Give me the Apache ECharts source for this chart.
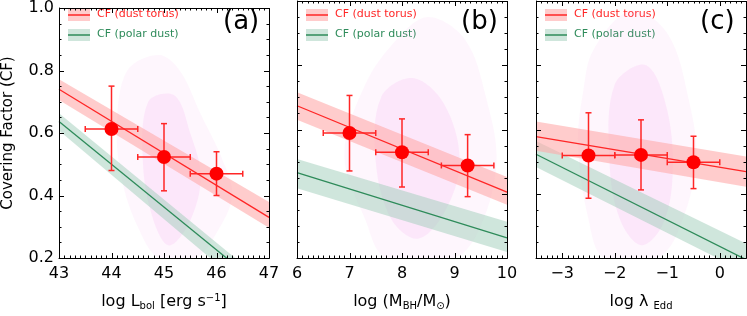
<!DOCTYPE html>
<html><head><meta charset="utf-8">
<script src="https://cdn.jsdelivr.net/npm/echarts@6/dist/echarts.min.js"></script>
<style>html,body{margin:0;padding:0;background:#fff}#c{width:747px;height:316px}</style>
</head><body><div id="c"></div>
<script>
// ---- data ----
const yMin = 0.2, yMax = 1.0, yStep = 0.2;
const xRangeA = [43, 47], xRangeB = [6, 10], xRangeC = [-3.5, 0.5];
const xTicksA = [43, 44, 45, 46, 47], xTicksB = [6, 7, 8, 9, 10], xTicksC = [-3, -2, -1, 0];

// binned points with error bars
const ptsA_x = [44, 45, 46], ptsA_y = [0.613, 0.523, 0.47];
const ptsA_xlo = [43.5, 44.5, 45.5], ptsA_xhi = [44.5, 45.5, 46.5];
const ptsA_ylo = [0.48, 0.415, 0.40], ptsA_yhi = [0.75, 0.63, 0.54];

const ptsB_x = [7, 8, 9.25], ptsB_y = [0.589, 0.529, 0.488];
const ptsB_xlo = [6.5, 7.5, 8.75], ptsB_xhi = [7.5, 8.5, 9.75];
const ptsB_ylo = [0.471, 0.421, 0.391], ptsB_yhi = [0.706, 0.633, 0.584];

const ptsC_x = [-2.5, -1.5, -0.5], ptsC_y = [0.519, 0.521, 0.498];
const ptsC_xlo = [-3, -2, -1], ptsC_xhi = [-2, -1, 0];
const ptsC_ylo = [0.386, 0.412, 0.416], ptsC_yhi = [0.652, 0.63, 0.579];

// fitted relations (line + band upper/lower) at the panel x-limits
const torusA_x = [43, 47], torusA_y = [0.74, 0.33], torusA_hi = [0.772, 0.379], torusA_lo = [0.706, 0.297];
const polarA_x = [43, 47], polarA_y = [0.637, 0.089], polarA_hi = [0.663, 0.111], polarA_lo = [0.608, 0.041];
const torusB_x = [6, 10], torusB_y = [0.674, 0.405], torusB_hi = [0.716, 0.452], torusB_lo = [0.63, 0.366];
const polarB_x = [6, 10], polarB_y = [0.466, 0.263], polarB_hi = [0.508, 0.313], polarB_lo = [0.417, 0.219];
const torusC_x = [-3.5, 0.5], torusC_y = [0.578, 0.469], torusC_hi = [0.625, 0.516], torusC_lo = [0.534, 0.422];
const polarC_x = [-3.5, 0.5], polarC_y = [0.523, 0.195], polarC_hi = [0.564, 0.245], polarC_lo = [0.483, 0.155];

// approximate outlines of the individual-source cloud (outer sparse / inner dense)
const cloudA_outer = [[44.3,0.80],[44.9,0.85],[45.3,0.80],[45.7,0.66],[46.1,0.52],[46.3,0.40],[46.0,0.28],[45.6,0.20],[44.9,0.20],[44.5,0.30],[44.2,0.45],[44.1,0.62]];
const cloudA_inner = [[44.7,0.70],[45.2,0.72],[45.5,0.60],[45.7,0.46],[45.5,0.32],[45.1,0.24],[44.8,0.32],[44.6,0.50]];
const cloudB_outer = [[7.3,0.74],[7.9,0.88],[8.5,0.95],[9.2,0.88],[9.6,0.70],[9.8,0.50],[9.5,0.30],[9.0,0.20],[7.7,0.20],[7.3,0.32],[6.9,0.52]];
const cloudB_inner = [[7.6,0.70],[8.2,0.76],[8.8,0.68],[9.1,0.50],[8.8,0.34],[8.3,0.26],[7.8,0.32],[7.5,0.50]];
const cloudC_outer = [[-2.4,0.85],[-1.7,0.97],[-1.0,0.90],[-0.6,0.70],[-0.45,0.50],[-0.8,0.28],[-1.2,0.20],[-2.2,0.20],[-2.5,0.32],[-2.7,0.55],[-2.6,0.72]];
const cloudC_inner = [[-2.0,0.74],[-1.4,0.80],[-1.0,0.66],[-0.9,0.45],[-1.1,0.30],[-1.5,0.24],[-1.9,0.32],[-2.1,0.50]];

const xNames = ['log L{sub|bol} [erg s{sup|\u22121}]', 'log (M{sub|BH}/M{sub|\u2299})', 'log \u03bb {sub|Edd}'];
const yName = 'Covering Factor (CF)';
const panelTags = ['(a)', '(b)', '(c)'];
const legendTorus = 'CF (dust torus)', legendPolar = 'CF (polar dust)';

// ---- styling / layout ----
const FONT = 'DejaVu Sans';
const RED = '#ff2626', PINK = 'rgba(255,170,170,0.6)', GREEN = '#2e8b5a', LGREEN = 'rgba(160,205,185,0.5)';
const grids = [{left: 59, top: 1, width: 210, height: 262}, {left: 297, top: 1, width: 210, height: 262}, {left: 536, top: 1, width: 210, height: 262}];
const ranges = [xRangeA, xRangeB, xRangeC];
const majors = [xTicksA, xTicksB, xTicksC];

const chart = echarts.init(document.getElementById('c'));

const xAxes = [], yAxes = [], series = [], graphics = [];
const lineSt = {color: '#000', width: 1};

grids.forEach((g, i) => {
  const r = ranges[i];
  xAxes.push({gridIndex: i, type: 'value', min: r[0], max: r[1], interval: 0.5, position: 'bottom',
    axisLine: {show: true, onZero: false, lineStyle: lineSt},
    axisTick: {show: false}, minorTick: {show: false}, splitLine: {show: false},
    axisLabel: {show: true, customValues: majors[i], color: '#000', fontFamily: FONT, fontSize: 16, margin: 8,
      formatter: v => (v < 0 ? '\u2212' + Math.abs(v) : String(v))},
    name: xNames[i], nameLocation: 'middle', nameGap: 35,
    nameTextStyle: {color: '#000', fontFamily: FONT, fontSize: 16,
      rich: {sub: {fontFamily: FONT, fontSize: 10, color: '#000', verticalAlign: 'bottom', padding: [8, 0, 0, 0]},
             sup: {fontFamily: FONT, fontSize: 10, color: '#000', verticalAlign: 'top', padding: [0, 0, 8, 0]}}}});
  yAxes.push({gridIndex: i, type: 'value', min: yMin, max: yMax, interval: yStep, position: 'left',
    axisLine: {show: true, onZero: false, lineStyle: lineSt},
    axisTick: {show: false}, minorTick: {show: false}, splitLine: {show: false},
    axisLabel: {show: i === 0, color: '#000', fontFamily: FONT, fontSize: 16, margin: 5, formatter: v => v.toFixed(1)},
    name: i === 0 ? yName : '', nameLocation: 'middle', nameGap: 43, nameRotate: 90,
    nameTextStyle: {color: '#000', fontFamily: FONT, fontSize: 15}});
});

// frame + inside ticks on all four sides, drawn through the axes' scales
function frameSeries(idx) {
  const r = ranges[idx];
  return {type: 'custom', xAxisIndex: idx, yAxisIndex: idx, clip: false, silent: true, z: 20, data: [0],
    renderItem: (params, api) => {
      const cs = params.coordSys;
      const left = cs.x, right = cs.x + cs.width, top = cs.y, bottom = cs.y + cs.height;
      const st = {stroke: '#000', lineWidth: 1};
      const kids = [{type: 'rect', shape: {x: Math.round(left) + 0.5, y: Math.round(top) + 0.5,
        width: Math.round(right) - Math.round(left), height: Math.round(bottom) - Math.round(top)}, style: {fill: 'none', stroke: '#000', lineWidth: 1}}];
      const k0 = Math.round(r[0] * 10), k1 = Math.round(r[1] * 10);
      for (let k = k0; k <= k1; k++) {
        const len = (k % 10 === 0) ? 5 : 2.5;
        const px = Math.round(api.coord([k / 10, yMin])[0]) + 0.5;
        kids.push({type: 'line', shape: {x1: px, y1: bottom, x2: px, y2: bottom - len}, style: st});
        kids.push({type: 'line', shape: {x1: px, y1: top, x2: px, y2: top + len}, style: st});
      }
      for (let k = Math.round(yMin * 20); k <= Math.round(yMax * 20); k++) {
        const len = (k % 4 === 0) ? 5 : 2.5;
        const py = Math.round(api.coord([r[0], k / 20])[1]) + 0.5;
        kids.push({type: 'line', shape: {x1: left, y1: py, x2: left + len, y2: py}, style: st});
        kids.push({type: 'line', shape: {x1: right, y1: py, x2: right - len, y2: py}, style: st});
      }
      return {type: 'group', children: kids};
    }};
}
function cloudSeries(idx, poly, color) {
  return {type: 'custom', xAxisIndex: idx, yAxisIndex: idx, clip: true, silent: true, z: 1,
    data: [0],
    renderItem: (params, api) => ({type: 'polygon', shape: {points: poly.map(p => api.coord(p)), smooth: 0.35},
      style: {fill: color}})};
}
function bandSeries(idx, xs, hi, lo, color) {
  const data = xs.map((x, k) => [x, hi[k], lo[k]]);
  return {type: 'custom', xAxisIndex: idx, yAxisIndex: idx, clip: true, silent: true, z: 2,
    data: [0],
    renderItem: (params, api) => {
      const up = data.map(d => api.coord([d[0], d[1]]));
      const dn = data.slice().reverse().map(d => api.coord([d[0], d[2]]));
      return {type: 'polygon', shape: {points: up.concat(dn)}, style: {fill: color}};
    }};
}
function lineSeries(idx, xs, ys, color) {
  return {type: 'line', xAxisIndex: idx, yAxisIndex: idx, data: xs.map((x, k) => [x, ys[k]]),
    showSymbol: false, symbol: 'none', clip: true, lineStyle: {color: color, width: 1.3}, z: 3, silent: true};
}
function errSeries(idx, xs, ys, xlo, xhi, ylo, yhi) {
  return {type: 'custom', xAxisIndex: idx, yAxisIndex: idx, clip: false, z: 4, silent: true,
    data: xs.map((x, k) => [x, ys[k], xlo[k], xhi[k], ylo[k], yhi[k]]),
    renderItem: (params, api) => {
      const x = api.value(0), y = api.value(1);
      const L = api.coord([api.value(2), y]), R = api.coord([api.value(3), y]);
      const B = api.coord([x, api.value(4)]), T = api.coord([x, api.value(5)]);
      const st = {stroke: RED, lineWidth: 1.5};
      const c = 3;
      return {type: 'group', children: [
        {type: 'line', shape: {x1: L[0], y1: L[1], x2: R[0], y2: R[1]}, style: st},
        {type: 'line', shape: {x1: B[0], y1: B[1], x2: T[0], y2: T[1]}, style: st},
        {type: 'line', shape: {x1: L[0], y1: L[1] - c, x2: L[0], y2: L[1] + c}, style: st},
        {type: 'line', shape: {x1: R[0], y1: R[1] - c, x2: R[0], y2: R[1] + c}, style: st},
        {type: 'line', shape: {x1: B[0] - c, y1: B[1], x2: B[0] + c, y2: B[1]}, style: st},
        {type: 'line', shape: {x1: T[0] - c, y1: T[1], x2: T[0] + c, y2: T[1]}, style: st}]};
    }};
}
function pointSeries(idx, xs, ys) {
  return {type: 'scatter', xAxisIndex: idx, yAxisIndex: idx, data: xs.map((x, k) => [x, ys[k]]),
    symbol: 'circle', symbolSize: 14, itemStyle: {color: '#ff0000', opacity: 1}, z: 5, silent: true};
}

const CLOUD_OUT = 'rgba(240,150,235,0.09)', CLOUD_IN = 'rgba(240,150,235,0.15)';
const panels = [
  {cloudO: cloudA_outer, cloudI: cloudA_inner, t: [torusA_x, torusA_y, torusA_hi, torusA_lo], p: [polarA_x, polarA_y, polarA_hi, polarA_lo],
   pts: [ptsA_x, ptsA_y, ptsA_xlo, ptsA_xhi, ptsA_ylo, ptsA_yhi]},
  {cloudO: cloudB_outer, cloudI: cloudB_inner, t: [torusB_x, torusB_y, torusB_hi, torusB_lo], p: [polarB_x, polarB_y, polarB_hi, polarB_lo],
   pts: [ptsB_x, ptsB_y, ptsB_xlo, ptsB_xhi, ptsB_ylo, ptsB_yhi]},
  {cloudO: cloudC_outer, cloudI: cloudC_inner, t: [torusC_x, torusC_y, torusC_hi, torusC_lo], p: [polarC_x, polarC_y, polarC_hi, polarC_lo],
   pts: [ptsC_x, ptsC_y, ptsC_xlo, ptsC_xhi, ptsC_ylo, ptsC_yhi]}
];
panels.forEach((P, i) => {
  series.push(cloudSeries(i, P.cloudO, CLOUD_OUT));
  series.push(cloudSeries(i, P.cloudI, CLOUD_IN));
  series.push(bandSeries(i, P.p[0], P.p[2], P.p[3], LGREEN));
  series.push(bandSeries(i, P.t[0], P.t[2], P.t[3], PINK));
  series.push(lineSeries(i, P.p[0], P.p[1], GREEN));
  series.push(lineSeries(i, P.t[0], P.t[1], RED));
  series.push(errSeries(i, ...P.pts));
  series.push(pointSeries(i, P.pts[0], P.pts[1]));
  series.push(frameSeries(i));

  const L = grids[i].left;
  graphics.push(
    {type: 'rect', left: L + 9, top: 9, shape: {width: 22, height: 12}, style: {fill: PINK}},
    {type: 'line', shape: {x1: L + 9, y1: 15, x2: L + 31, y2: 15}, style: {stroke: RED, lineWidth: 1.5}},
    {type: 'text', left: L + 38, top: 9, style: {text: legendTorus, fill: RED, font: '11px "DejaVu Sans"'}},
    {type: 'rect', left: L + 9, top: 29, shape: {width: 22, height: 12}, style: {fill: LGREEN}},
    {type: 'line', shape: {x1: L + 9, y1: 35, x2: L + 31, y2: 35}, style: {stroke: GREEN, lineWidth: 1.5}},
    {type: 'text', left: L + 38, top: 29, style: {text: legendPolar, fill: GREEN, font: '11px "DejaVu Sans"'}},
    {type: 'text', left: L + 164, top: 9, style: {text: panelTags[i], fill: '#000', font: '26px "DejaVu Sans"'}}
  );
});

chart.setOption({
  animation: false,
  grid: grids,
  xAxis: xAxes, yAxis: yAxes, series: series, graphic: graphics
});
</script></body></html>
